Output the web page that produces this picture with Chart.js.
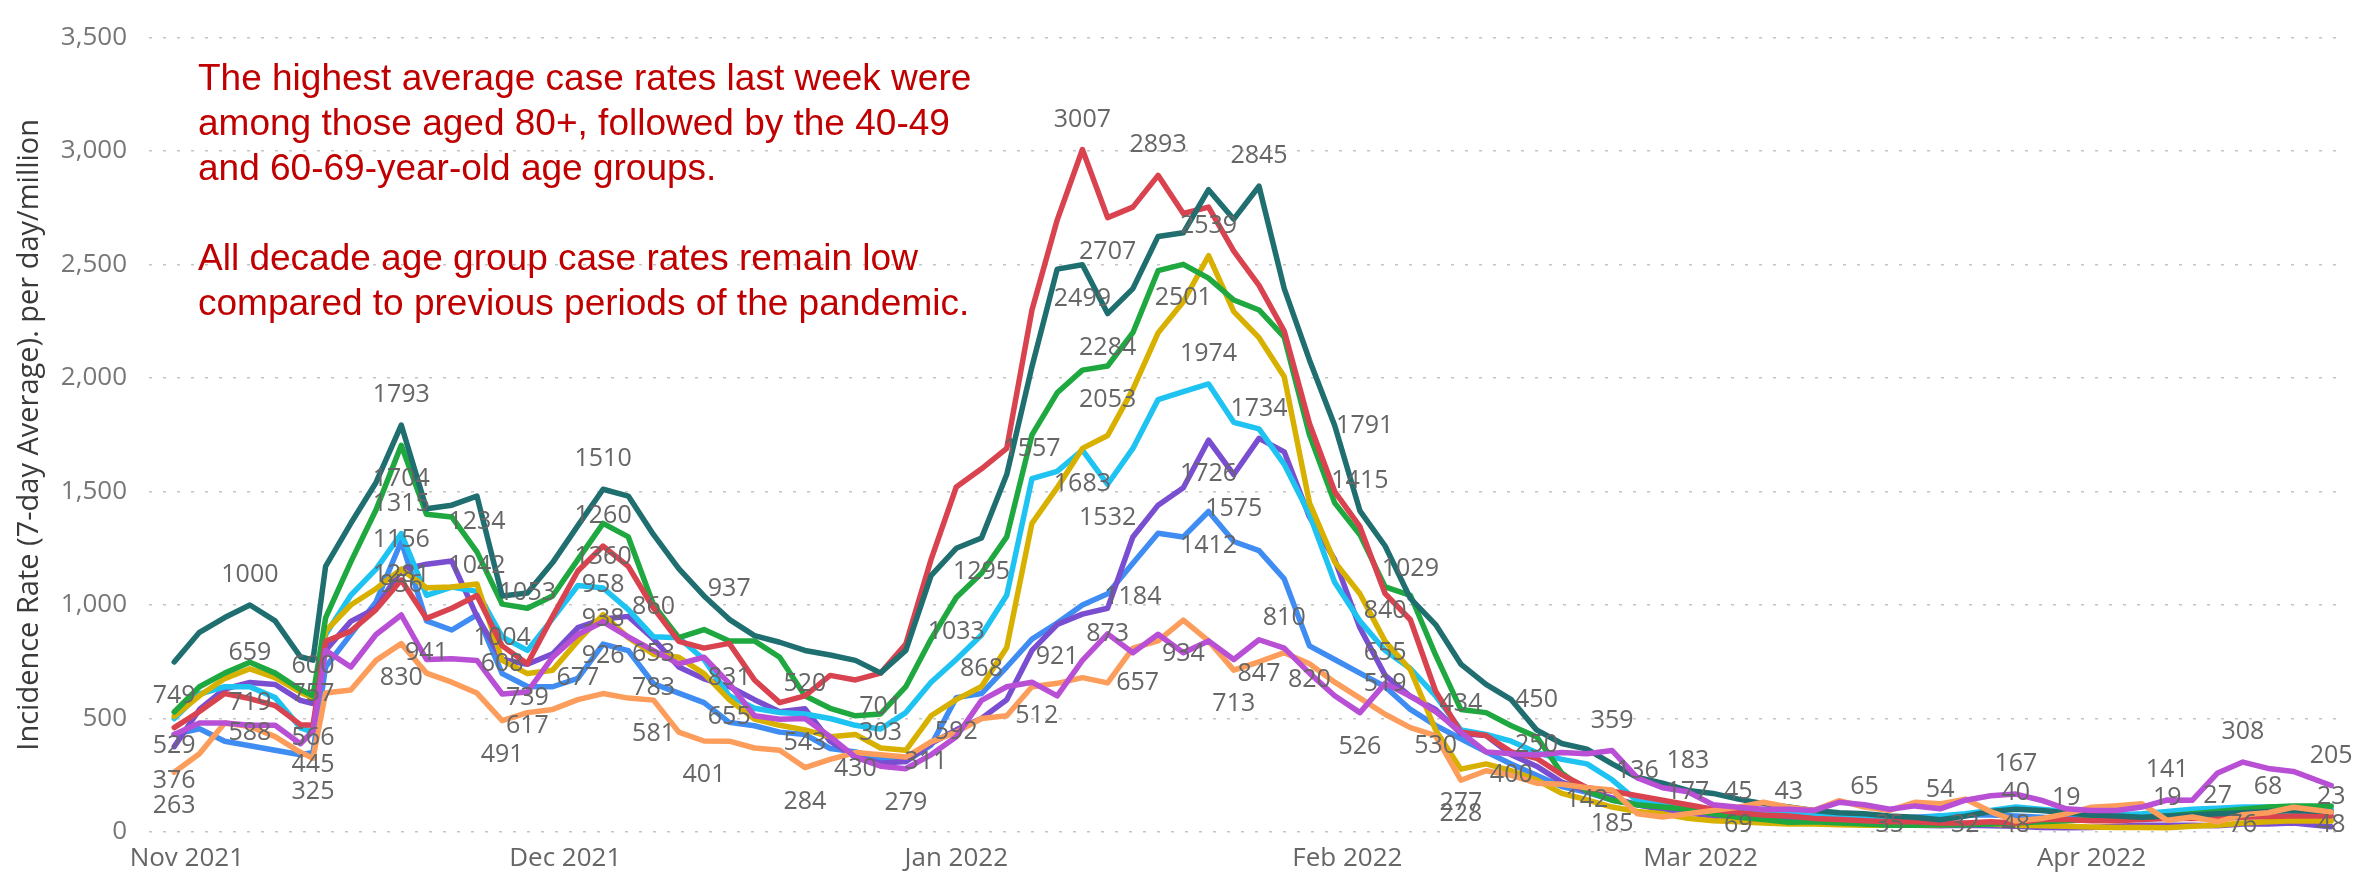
<!DOCTYPE html>
<html>
<head>
<meta charset="utf-8">
<title>Incidence rate by decade age group</title>
<script src="https://cdn.jsdelivr.net/npm/chart.js@4.4.1/dist/chart.umd.min.js"></script>
<style>
  html, body { margin: 0; padding: 0; background: #fff; }
  #wrap { position: relative; width: 2369px; height: 875px; }
  #note {
    position: absolute; left: 198px; top: 55px;
    font-family: "Liberation Sans", Arial, sans-serif;
    font-size: 37px; line-height: 45px; color: #c00000;
    white-space: nowrap;
  }
</style>
</head>
<body>
<div id="wrap">
  <canvas id="chart" width="2369" height="875"></canvas>
  <div id="note">The highest average case rates last week were<br>among those aged 80+, followed by the 40-49<br>and 60-69-year-old age groups.<br><br>All decade age group case rates remain low<br>compared to previous periods of the pandemic.</div>
</div>
<script>
// days counted from 1 Nov 2021
const days = [-1, 1, 3, 5, 7, 9, 10, 11, 13, 15,
  17, 19, 21, 23, 25, 27, 29, 31, 33, 35,
  37, 39, 41, 43, 45, 47, 49, 51, 53, 55,
  57, 59, 61, 63, 65, 67, 69, 71, 73, 75,
  77, 79, 81, 83, 85, 87, 89, 91, 93, 95,
  97, 99, 101, 103, 105, 107, 109, 111, 113, 115,
  117, 119, 121, 123, 125, 127, 129, 131, 133, 135,
  137, 139, 141, 143, 145, 147, 149, 151, 153, 155,
  157, 159, 161, 163, 165, 167, 170];

const monthDays = [0, 30, 61, 92, 120, 151];
const monthLabels = ["Nov 2021", "Dec 2021", "Jan 2022", "Feb 2022", "Mar 2022", "Apr 2022"];
const yTicks = [0, 500, 1000, 1500, 2000, 2500, 3000, 3500];

const teal = [749, 880, 945, 1000, 930, 772, 757, 1170, 1360, 1540,
  1793, 1424, 1440, 1480, 1040, 1053, 1187, 1350, 1510, 1480,
  1310, 1160, 1040, 937, 865, 836, 800, 780, 756, 701,
  800, 1130, 1250, 1295, 1575, 2050, 2480, 2499, 2284, 2394,
  2624, 2640, 2830, 2700, 2845, 2394, 2080, 1791, 1415, 1260,
  1029, 914, 740, 650, 583, 450, 390, 365, 300, 240,
  215, 183, 170, 145, 125, 110, 95, 85, 80, 70,
  65, 54, 70, 90, 100, 95, 85, 75, 70, 65,
  70, 75, 80, 85, 90, 95, 90];

const red = [460, 531, 610, 588, 557, 473, 470, 840, 885, 980,
  1110, 941, 986, 1042, 820, 741, 950, 1150, 1260, 1170,
  986, 840, 810, 831, 670, 570, 600, 690, 670, 700,
  828, 1200, 1520, 1600, 1690, 2300, 2696, 3007, 2707, 2753,
  2893, 2725, 2753, 2559, 2408, 2207, 1800, 1500, 1345, 1050,
  935, 620, 440, 425, 353, 325, 253, 195, 180, 160,
  140, 120, 100, 85, 75, 70, 60, 55, 50, 45,
  45, 40, 40, 45, 40, 55, 55, 50, 50, 55,
  60, 60, 60, 65, 68, 70, 70];

const green = [529, 640, 700, 748, 700, 628, 600, 943, 1190, 1420,
  1704, 1400, 1388, 1234, 1004, 986, 1040, 1200, 1360, 1300,
  1000, 856, 892, 842, 842, 770, 600, 545, 512, 520,
  640, 850, 1033, 1140, 1300, 1750, 1935, 2035, 2053, 2200,
  2473, 2501, 2440, 2344, 2300, 2180, 1750, 1450, 1310, 1080,
  1043, 780, 540, 526, 468, 420, 260, 180, 140, 120,
  110, 100, 80, 65, 55, 43, 45, 40, 35, 30,
  30, 32, 32, 35, 40, 45, 50, 55, 55, 60,
  70, 80, 90, 100, 110, 115, 115];

const gold = [510, 600, 676, 719, 680, 616, 590, 885, 1000, 1072,
  1158, 1076, 1079, 1093, 756, 698, 713, 842, 958, 856,
  783, 770, 698, 583, 497, 470, 450, 420, 430, 370,
  360, 512, 583, 641, 813, 1360, 1517, 1690, 1747, 1950,
  2199, 2336, 2539, 2293, 2178, 2006, 1450, 1190, 1050, 840,
  715, 450, 277, 300, 270, 230, 170, 142, 110, 90,
  80, 60, 50, 45, 40, 35, 35, 32, 30, 30,
  30, 32, 35, 35, 30, 28, 25, 22, 20, 20,
  19, 25, 30, 40, 45, 50, 48];

const cyan = [500, 608, 640, 640, 592, 459, 440, 870, 1043, 1158,
  1315, 1043, 1079, 1060, 860, 800, 940, 1086, 1075, 980,
  860, 856, 760, 600, 545, 526, 520, 500, 470, 454,
  526, 660, 760, 868, 1043, 1557, 1589, 1683, 1532, 1690,
  1905, 1940, 1974, 1805, 1776, 1620, 1400, 1100, 930, 800,
  720, 600, 450, 430, 400, 350, 320, 300, 230, 136,
  120, 110, 100, 90, 80, 80, 75, 70, 65, 60,
  60, 70, 80, 95, 110, 100, 90, 80, 75, 80,
  90, 100, 105, 110, 110, 105, 100];

const violet = [376, 540, 630, 659, 650, 580, 566, 800, 928, 986,
  1156, 1180, 1194, 950, 760, 739, 785, 900, 938, 950,
  850, 727, 675, 641, 583, 530, 543, 400, 330, 303,
  311, 390, 450, 500, 583, 800, 914, 960, 986, 1300,
  1440, 1517, 1726, 1575, 1734, 1675, 1388, 1200, 900, 690,
  598, 540, 434, 425, 340, 290, 220, 180, 150, 120,
  100, 85, 70, 60, 55, 50, 45, 40, 35, 35,
  30, 28, 30, 28, 25, 20, 19, 20, 25, 30,
  30, 30, 27, 35, 35, 40, 23];

const blue = [430, 455, 400, 380, 360, 340, 350, 727, 871, 1014,
  1281, 930, 890, 957, 698, 641, 640, 677, 828, 799,
  653, 612, 570, 483, 468, 440, 430, 368, 353, 325,
  310, 382, 592, 610, 727, 850, 921, 1000, 1050, 1184,
  1316, 1300, 1412, 1280, 1240, 1115, 820, 760, 700, 640,
  540, 470, 411, 353, 300, 250, 200, 175, 140, 120,
  100, 85, 75, 69, 65, 60, 60, 55, 55, 60,
  65, 70, 75, 75, 70, 65, 60, 60, 65, 70,
  80, 90, 95, 100, 100, 95, 90];

const magenta = [430, 480, 480, 470, 470, 389, 445, 800, 727, 870,
  956, 760, 763, 756, 608, 617, 770, 870, 926, 860,
  799, 741, 770, 655, 512, 497, 500, 420, 330, 290,
  279, 340, 420, 580, 640, 660, 600, 756, 873, 790,
  871, 790, 842, 760, 847, 810, 700, 600, 526, 655,
  598, 530, 440, 353, 345, 339, 350, 345, 359, 238,
  195, 177, 120, 109, 100, 100, 95, 131, 120, 100,
  115, 102, 140, 160, 167, 140, 102, 95, 95, 110,
  141, 140, 260, 308, 280, 267, 205];

const orange = [263, 345, 480, 465, 420, 351, 325, 612, 626, 756,
  830, 700, 660, 612, 491, 526, 540, 583, 610, 590,
  581, 440, 401, 400, 370, 360, 284, 320, 350, 340,
  330, 397, 440, 500, 512, 640, 655, 680, 657, 810,
  842, 934, 842, 713, 750, 790, 741, 660, 590, 519,
  460, 425, 228, 270, 250, 215, 210, 195, 185, 80,
  66, 80, 95, 109, 131, 109, 95, 138, 110, 95,
  131, 124, 145, 90, 48, 59, 80, 109, 116, 124,
  52, 66, 45, 76, 85, 109, 88];

// first entry is drawn on top
const series = [
  { name: "magenta", values: magenta, color: "#b84fd4" },
  { name: "orange", values: orange, color: "#fd9d5c" },
  { name: "teal", values: teal, color: "#1f6e70" },
  { name: "red", values: red, color: "#d9434f" },
  { name: "green", values: green, color: "#1ea83f" },
  { name: "gold", values: gold, color: "#d8b000" },
  { name: "cyan", values: cyan, color: "#1ec3f2" },
  { name: "violet", values: violet, color: "#7a4ed0" },
  { name: "blue", values: blue, color: "#3f8df2" }
];

// which points carry a value label: series, day, a = above / b = below / m = on the point
const pointLabels = [
  ["teal", -1, "b"], ["green", -1, "b"], ["violet", -1, "b"], ["orange", -1, "b"],
  ["teal", 5, "a"], ["violet", 5, "a"], ["gold", 5, "b"], ["red", 5, "b"],
  ["green", 10, "a"], ["teal", 10, "b"], ["violet", 10, "b"], ["magenta", 10, "b"], ["orange", 10, "b"],
  ["teal", 17, "a"], ["green", 17, "b"], ["cyan", 17, "a"], ["violet", 17, "a"], ["blue", 17, "b"], ["magenta", 17, "a"], ["orange", 17, "b"],
  ["red", 19, "b"], ["green", 23, "a"], ["red", 23, "a"],
  ["green", 25, "b"], ["teal", 27, "m"], ["magenta", 25, "a"], ["violet", 27, "b"], ["magenta", 27, "b"], ["orange", 25, "b"],
  ["teal", 33, "a"], ["red", 33, "a"], ["green", 33, "b"], ["gold", 33, "a"], ["violet", 33, "m"], ["magenta", 33, "b"], ["blue", 31, "m"],
  ["cyan", 37, "a"], ["blue", 37, "a"], ["gold", 37, "b"], ["orange", 37, "b"],
  ["teal", 43, "a"], ["red", 43, "b"], ["magenta", 43, "b"], ["orange", 41, "b"],
  ["cyan", 49, "a"], ["violet", 49, "b"], ["orange", 49, "b"],
  ["teal", 55, "b"], ["violet", 55, "a"], ["gold", 53, "b"], ["violet", 57, "m", 20], ["magenta", 57, "b"],
  ["green", 61, "b"], ["teal", 63, "b"], ["cyan", 63, "b"], ["blue", 61, "b"], ["blue", 69, "b"], ["orange", 65, "m", 30],
  ["cyan", 67, "a"], ["cyan", 71, "b"], ["cyan", 73, "b"], ["green", 73, "b"], ["teal", 73, "b"],
  ["red", 71, "a"], ["red", 73, "b"], ["red", 77, "a"], ["teal", 71, "b"], ["green", 79, "b"], ["gold", 81, "a"], ["teal", 85, "a"],
  ["cyan", 81, "a"], ["violet", 81, "b"], ["blue", 81, "b"], ["violet", 83, "b"], ["violet", 85, "a"], ["teal", 91, "m", 30],
  ["blue", 75, "b"], ["magenta", 73, "m"], ["orange", 73, "m", 30], ["orange", 79, "b"], ["orange", 83, "b"], ["magenta", 85, "b"], ["magenta", 87, "a"],
  ["blue", 89, "b"], ["magenta", 93, "b"], ["teal", 93, "a"], ["teal", 97, "a"], ["gold", 95, "a"], ["magenta", 95, "a"], ["orange", 95, "a"],
  ["violet", 101, "a"], ["teal", 107, "a"], ["magenta", 99, "b"], ["gold", 101, "b"], ["orange", 101, "b"], ["blue", 107, "a"], ["cyan", 105, "b"], ["gold", 111, "m"],
  ["magenta", 113, "a"], ["cyan", 115, "a"], ["teal", 119, "a"], ["magenta", 119, "m"], ["orange", 113, "b"],
  ["gold", 123, "a"], ["blue", 123, "b"], ["green", 127, "a"], ["cyan", 133, "a"], ["violet", 135, "b"], ["teal", 139, "a"], ["green", 141, "b"],
  ["magenta", 145, "a"], ["red", 145, "a"], ["orange", 145, "b"], ["violet", 149, "a"],
  ["magenta", 157, "a"], ["gold", 157, "a"], ["violet", 161, "a"], ["magenta", 163, "a"], ["red", 165, "a"], ["orange", 163, "b"],
  ["magenta", 170, "a"], ["violet", 170, "a"], ["gold", 170, "b"]
];

const LABEL_SHIFT = { a: -30, b: 34, m: 0 };
const tickFont = { family: "'Open Sans', sans-serif", size: 26 };

const valueLabels = {
  id: "valueLabels",
  afterDatasetsDraw(chart) {
    const ctx = chart.ctx;
    const lowest = chart.chartArea.bottom - 7;
    ctx.save();
    ctx.font = "25px 'Open Sans', sans-serif";
    ctx.fillStyle = "#666666";
    ctx.textAlign = "center";
    ctx.textBaseline = "middle";
    pointLabels.forEach(([name, day, place, dx = 0]) => {
      const s = series.findIndex(x => x.name === name);
      const i = days.indexOf(day);
      if (s < 0 || i < 0) return;
      const pt = chart.getDatasetMeta(s).data[i];
      const y = Math.min(pt.y + LABEL_SHIFT[place], lowest);
      ctx.fillText(String(series[s].values[i]), pt.x + dx, y);
    });
    ctx.restore();
  }
};

new Chart(document.getElementById("chart"), {
  type: "line",
  data: {
    datasets: series.map(s => ({
      label: s.name,
      data: days.map((d, i) => ({ x: d, y: s.values[i] })),
      borderColor: s.color,
      backgroundColor: s.color
    }))
  },
  options: {
    responsive: false,
    animation: false,
    devicePixelRatio: 1,
    layout: { padding: { top: 20, right: 29, left: 0, bottom: 0 } },
    plugins: { legend: { display: false }, tooltip: { enabled: false } },
    elements: {
      point: { radius: 0 },
      line: { borderWidth: 5.5, tension: 0, borderJoinStyle: "round", borderCapStyle: "round" }
    },
    scales: {
      x: {
        type: "linear",
        min: -3,
        max: 170.7,
        grid: { display: false },
        border: { display: false },
        afterBuildTicks: scale => { scale.ticks = monthDays.map(v => ({ value: v })); },
        afterFit: scale => { scale.height = 43; },
        ticks: {
          autoSkip: false,
          maxRotation: 0,
          padding: 3,
          color: "#666666",
          font: tickFont,
          callback: v => monthLabels[monthDays.indexOf(v)]
        }
      },
      y: {
        min: 0,
        max: 3500,
        afterBuildTicks: scale => { scale.ticks = yTicks.map(v => ({ value: v })); },
        afterFit: scale => { scale.width = 149; },
        grid: { color: "#c4c4c4", lineWidth: 1.5, drawTicks: false },
        border: { display: false, dash: [3, 11] },
        ticks: {
          padding: 22,
          color: "#777777",
          font: tickFont,
          callback: v => v.toLocaleString("en-US")
        },
        title: {
          display: true,
          text: "Incidence Rate (7-day Average). per day/million",
          color: "#3a3a3a",
          font: { family: "'Open Sans', sans-serif", size: 29 },
          padding: { top: 12, bottom: 0 }
        }
      }
    }
  },
  plugins: [valueLabels]
});
</script>
</body>
</html>
